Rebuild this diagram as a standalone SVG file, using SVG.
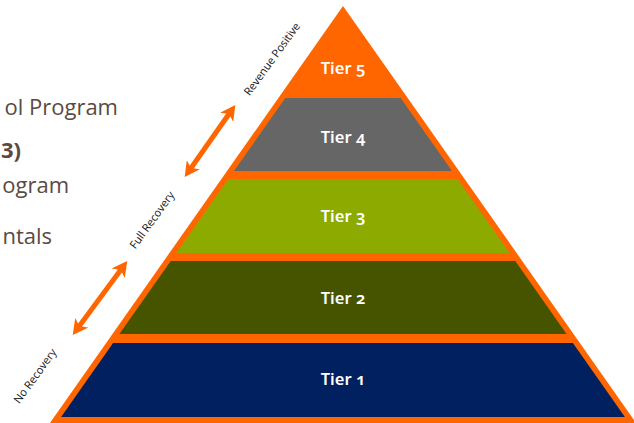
<svg xmlns="http://www.w3.org/2000/svg" width="634" height="423" viewBox="0 0 634 423">
  <style>
    .side { font-family: "Open Sans", "Noto Sans", sans-serif; font-size: 22px; fill: #5a4a42; text-anchor: end; }
    .tier { font-family: "Noto Sans", "Open Sans", sans-serif; font-size: 16.5px; font-weight: 600; fill: #ffffff; text-anchor: middle; font-feature-settings: "onum" 1; font-variant-numeric: oldstyle-nums; }
    .stage { font-family: "Open Sans", "Noto Sans", sans-serif; font-size: 11px; fill: #111111; text-anchor: middle; }
    .arrow { stroke: #ff6600; stroke-width: 5; fill: none; marker-start: url(#head); marker-end: url(#head); }
  </style>
  <defs>
    <marker id="head" markerUnits="userSpaceOnUse" viewBox="0 0 15 16" markerWidth="15" markerHeight="16" refX="7" refY="8" orient="auto-start-reverse">
      <path d="M0,0 L15,8 L0,16 L4,8 Z" fill="#ff6600"/>
    </marker>
  </defs>

  <rect width="634" height="423" fill="#ffffff"/>

  <!-- partial slide text on the left -->
  <g id="side-text">
    <text class="side" x="118" y="115">ol Program</text>
    <text class="side" x="21" y="158" font-weight="700">3)</text>
    <text class="side" x="69" y="193">ogram</text>
    <text class="side" x="52" y="244">ntals</text>
  </g>

  <!-- pyramid body; the top tier is the outer triangle itself -->
  <g id="pyramid">
    <polygon points="343,6 641,430 45,430" fill="#ff6600"/>
  </g>
  <g id="tier5">
    <text class="tier" x="343" y="74">Tier 5</text>
  </g>
  <g id="tier4">
    <polygon points="285.3,98 400.7,98 452,171 234,171" fill="#666666"/>
    <text class="tier" x="343" y="143">Tier 4</text>
  </g>
  <g id="tier3">
    <polygon points="228.4,179 457.6,179 509.6,253 176.4,253" fill="#8daa00"/>
    <text class="tier" x="343" y="222">Tier 3</text>
  </g>
  <g id="tier2">
    <polygon points="170.7,261 515.3,261 566.6,334 119.4,334" fill="#465400"/>
    <text class="tier" x="343" y="304">Tier 2</text>
  </g>
  <g id="tier1">
    <polygon points="113.1,343 572.9,343 624.9,417 61.1,417" fill="#002060"/>
    <text class="tier" x="343" y="385">Tier 1</text>
  </g>

  <!-- recovery stage markers along the left edge -->
  <g id="connectors">
    <line class="arrow" x1="189.3" y1="170.5" x2="230.7" y2="111.5"/>
    <line class="arrow" x1="77.5" y1="328.5" x2="122.5" y2="267.5"/>
  </g>
  <g id="stage-labels">
    <text class="stage" transform="translate(272,59) rotate(-54)" dy="0.35em">Revenue Positive</text>
    <text class="stage" transform="translate(152,220) rotate(-54)" dy="0.35em">Full Recovery</text>
    <text class="stage" transform="translate(35,376) rotate(-54)" dy="0.35em">No Recovery</text>
  </g>
</svg>
